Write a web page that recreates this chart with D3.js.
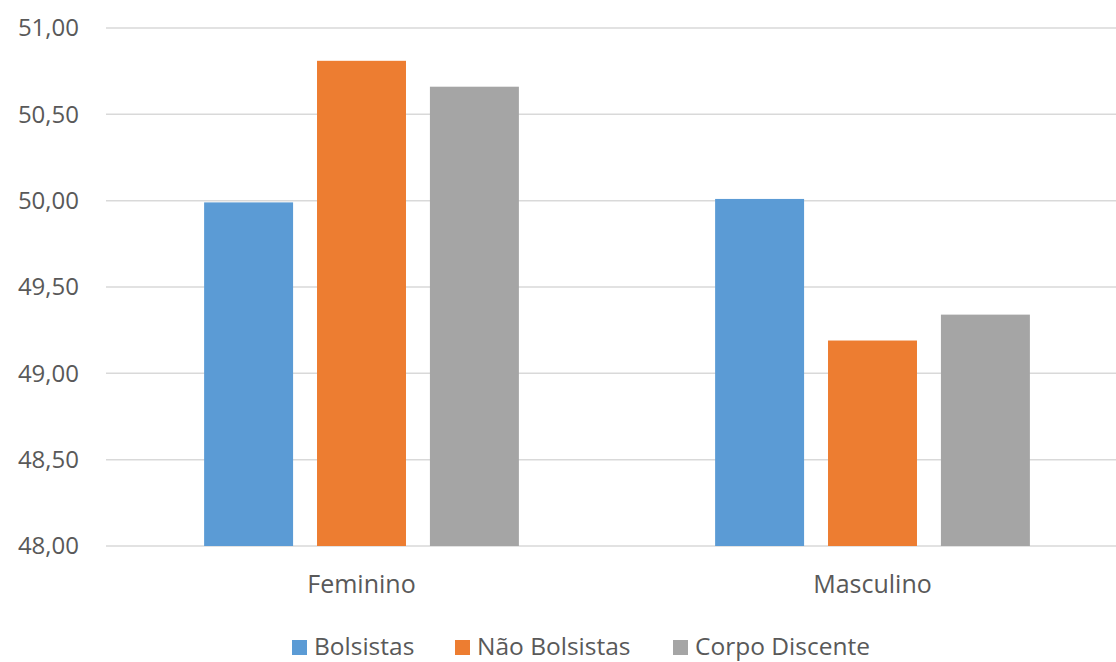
<!DOCTYPE html>
<html>
<head>
<meta charset="utf-8">
<script src="https://cdn.jsdelivr.net/npm/d3@7"></script>
<style>
  body { margin: 0; background: #fff; }
  text { font-family: "Open Sans", "Noto Sans", sans-serif; fill: #595959; }
</style>
</head>
<body>
<svg id="chart" width="1116" height="662"></svg>
<script>
// categories and series
var categories = ['Feminino', 'Masculino'];
var series = ['Bolsistas', 'Não Bolsistas', 'Corpo Discente'];
var bolsistas = [49.99, 50.01];
var naoBolsistas = [50.81, 49.19];
var corpoDiscente = [50.66, 49.34];
var yTicks = [48, 48.5, 49, 49.5, 50, 50.5, 51];
var colors = ['#5b9bd5', '#ed7d31', '#a5a5a5'];

var values = [bolsistas, naoBolsistas, corpoDiscente];

var svg = d3.select('#chart');
var margin = {top: 28, left: 106, bottom: 116};
var height = 662 - margin.top - margin.bottom;

var g = svg.append('g')
  .attr('transform', 'translate(' + margin.left + ',' + margin.top + ')');

var x0 = d3.scaleBand().domain(categories).range([0, 1022]);
var bw = x0.bandwidth();
var gw = bw * 0.616;
var x1 = d3.scaleBand().domain(series)
  .range([(bw - gw) / 2, (bw + gw) / 2])
  .paddingInner(0.212);

var y = d3.scaleLinear().domain([48, 51]).range([height, 0]);

var fmt = function(d) { return d3.format('.2f')(d).replace('.', ','); };

// gridlines
g.selectAll('line.grid')
  .data(yTicks)
  .enter().append('line')
  .attr('class', 'grid')
  .attr('x1', 0)
  .attr('x2', 1116)
  .attr('y1', function(d) { return y(d); })
  .attr('y2', function(d) { return y(d); })
  .attr('stroke', '#d9d9d9')
  .attr('stroke-width', 1.5);

// y tick labels
g.selectAll('text.ytick')
  .data(yTicks)
  .enter().append('text')
  .attr('class', 'ytick')
  .attr('x', -27)
  .attr('y', function(d) { return y(d); })
  .attr('dy', '0.35em')
  .attr('text-anchor', 'end')
  .style('font-size', '24px')
  .text(fmt);

// bars
var groups = g.selectAll('g.cat')
  .data(categories)
  .enter().append('g')
  .attr('class', 'cat')
  .attr('transform', function(d) { return 'translate(' + x0(d) + ',0)'; });

groups.selectAll('rect')
  .data(function(d, i) {
    return series.map(function(s, j) { return {s: s, v: values[j][i], j: j}; });
  })
  .enter().append('rect')
  .attr('x', function(d) { return x1(d.s); })
  .attr('width', x1.bandwidth())
  .attr('y', function(d) { return y(d.v); })
  .attr('height', function(d) { return y(48) - y(d.v); })
  .attr('fill', function(d) { return colors[d.j]; });

// category labels
g.selectAll('text.xlab')
  .data(categories)
  .enter().append('text')
  .attr('class', 'xlab')
  .attr('x', function(d) { return x0(d) + bw / 2; })
  .attr('y', height + 47)
  .attr('text-anchor', 'middle')
  .style('font-size', '25px')
  .text(function(d) { return d; });

// legend
var legendX = [292, 455, 673];
var legend = svg.selectAll('g.legend')
  .data(series)
  .enter().append('g')
  .attr('class', 'legend')
  .attr('transform', function(d, i) { return 'translate(' + legendX[i] + ',640)'; });

legend.append('rect')
  .attr('width', 15)
  .attr('height', 15)
  .attr('fill', function(d, i) { return colors[i]; });

legend.append('text')
  .attr('x', 22)
  .attr('y', 15)
  .style('font-size', '24.5px')
  .text(function(d) { return d; });
</script>
</body>
</html>
